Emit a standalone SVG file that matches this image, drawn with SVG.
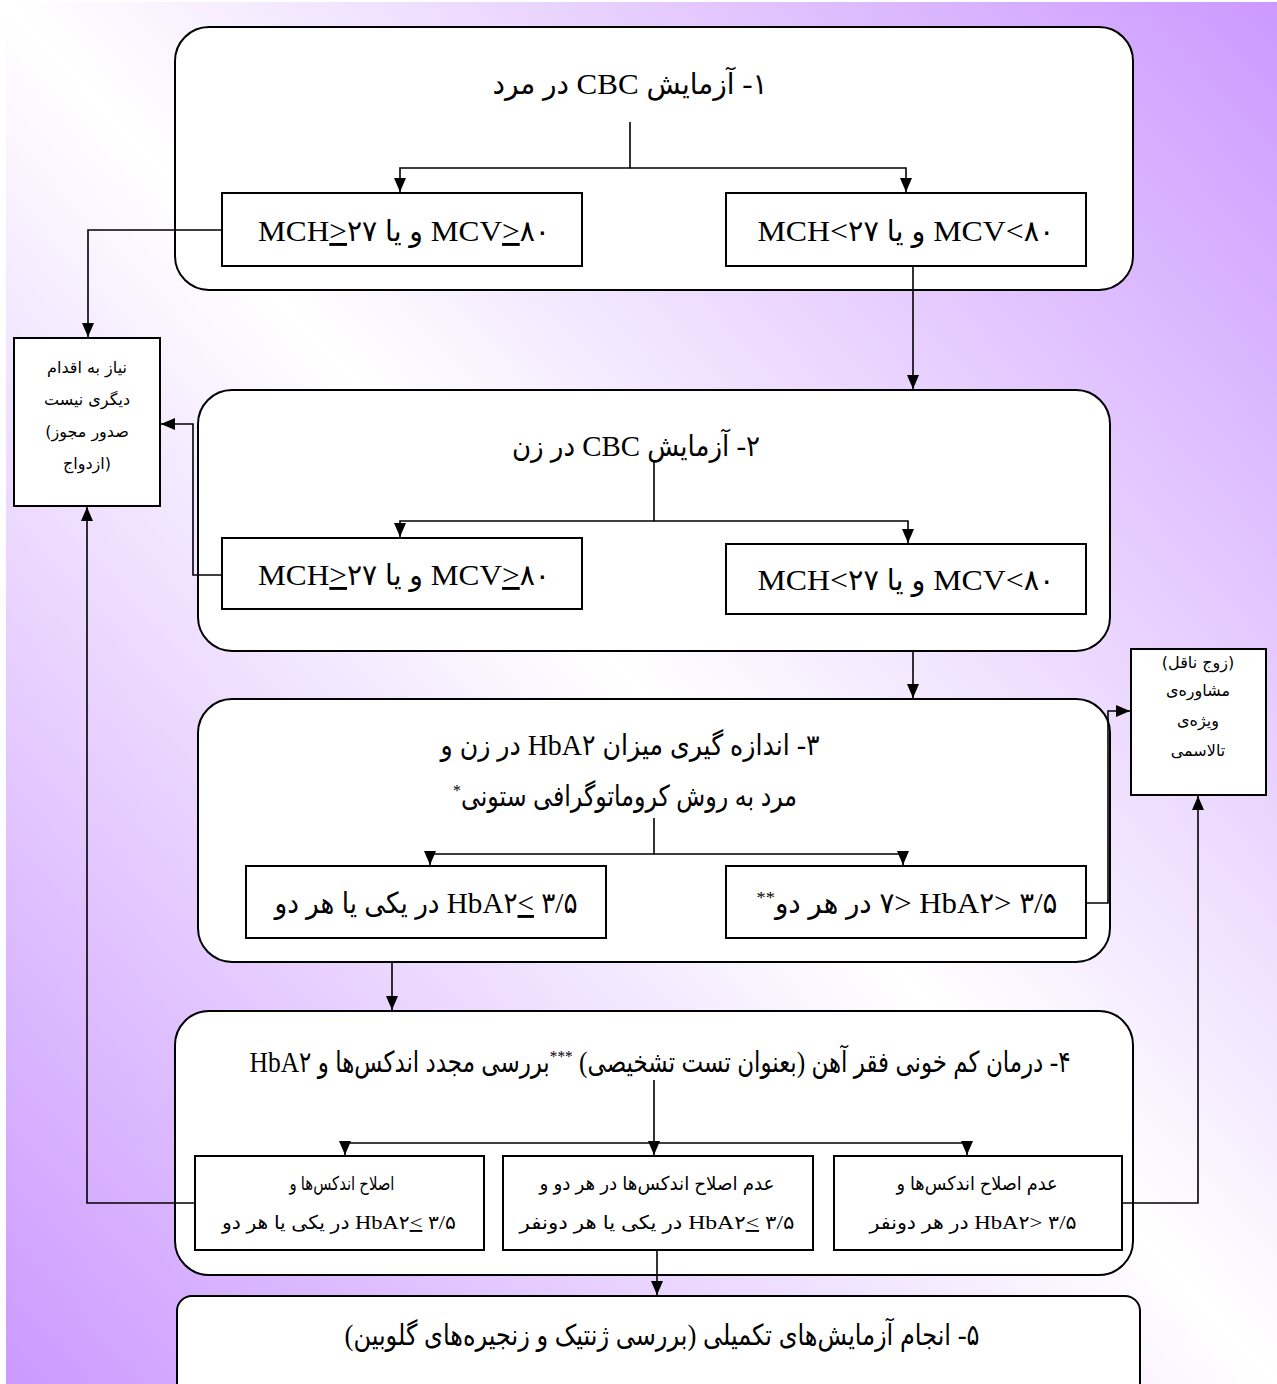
<svg xmlns="http://www.w3.org/2000/svg" width="1277" height="1384" viewBox="0 0 1277 1384">
  <defs>
    <linearGradient id="bg" x1="0" y1="1" x2="1" y2="0">
      <stop offset="0" stop-color="#cc99ff"/>
      <stop offset="0.5" stop-color="#ffffff"/>
      <stop offset="1" stop-color="#cc99ff"/>
    </linearGradient>
    <marker id="arr" viewBox="0 0 14 12" refX="14" refY="6" markerWidth="14" markerHeight="12" markerUnits="userSpaceOnUse" orient="auto">
      <path d="M0,0 L14,6 L0,12 z" fill="#000"/>
    </marker>
    <style>
      .stage{fill:#fff;stroke:#000;stroke-width:2}
      .box{fill:#fff;stroke:#000;stroke-width:2}
      .wire{fill:none;stroke:#000;stroke-width:1.6}
      .t{font-family:"Liberation Serif","DejaVu Sans Condensed","DejaVu Sans",serif;fill:#000;text-anchor:middle}
      .big{font-size:29px}
      .mid{font-size:19px}
      .sm{font-family:"DejaVu Sans",sans-serif;font-size:16px;fill:#000;text-anchor:middle}
      .u{text-decoration:underline}
      .sup{font-size:60%;baseline-shift:super}
    </style>
  </defs>

  <!-- page background -->
  <rect x="0" y="0" width="1277" height="1384" fill="#fff"/>
  <rect x="6" y="2" width="1271" height="1382" fill="url(#bg)"/>

  <!-- stage containers -->
  <g id="stage1">
    <rect class="stage" x="175" y="27" width="958" height="263" rx="34"/>
    <text class="t big" x="630" y="94" direction="rtl" textLength="275" lengthAdjust="spacingAndGlyphs">۱- آزمایش CBC در مرد</text>
  </g>
  <g id="stage2">
    <rect class="stage" x="198" y="390" width="912" height="261" rx="34"/>
    <text class="t big" x="636" y="456" direction="rtl" textLength="248" lengthAdjust="spacingAndGlyphs">۲- آزمایش CBC در زن</text>
  </g>
  <g id="stage3">
    <rect class="stage" x="198" y="699" width="912" height="263" rx="34"/>
    <text class="t big" x="630" y="755" direction="rtl" textLength="379" lengthAdjust="spacingAndGlyphs">۳- اندازه گیری میزان HbA۲ در زن و</text>
    <text class="t big" x="625" y="806" direction="rtl" textLength="344" lengthAdjust="spacingAndGlyphs">مرد به روش کروماتوگرافی ستونی<tspan class="sup">*</tspan></text>
  </g>
  <g id="stage4">
    <rect class="stage" x="175" y="1011" width="958" height="264" rx="34"/>
    <text class="t big" x="660" y="1072" direction="rtl" textLength="821" lengthAdjust="spacingAndGlyphs">۴- درمان کم خونی فقر آهن (بعنوان تست تشخیصی) <tspan class="sup">***</tspan>بررسی مجدد اندکس‌ها و HbA۲</text>
  </g>
  <g id="stage5">
    <rect class="stage" x="177" y="1296" width="963" height="130" rx="15"/>
    <text class="t big" x="662" y="1345" direction="rtl" textLength="635" lengthAdjust="spacingAndGlyphs">۵- انجام آزمایش‌های تکمیلی (بررسی ژنتیک و زنجیره‌های گلوبین)</text>
  </g>

  <!-- result boxes -->
  <g id="m-normal">
    <rect class="box" x="222" y="193" width="360" height="73"/>
    <text class="t big" x="404" y="241" direction="rtl" textLength="292" lengthAdjust="spacingAndGlyphs">MCV<tspan class="u">&gt;</tspan>۸۰ و یا MCH<tspan class="u">&gt;</tspan>۲۷</text>
  </g>
  <g id="m-low">
    <rect class="box" x="726" y="193" width="360" height="73"/>
    <text class="t big" x="906" y="241" direction="rtl" textLength="297" lengthAdjust="spacingAndGlyphs">MCV&lt;۸۰  و یا MCH&lt;۲۷</text>
  </g>
  <g id="f-normal">
    <rect class="box" x="222" y="538" width="360" height="71"/>
    <text class="t big" x="404" y="585" direction="rtl" textLength="292" lengthAdjust="spacingAndGlyphs">MCV<tspan class="u">&gt;</tspan>۸۰ و یا MCH<tspan class="u">&gt;</tspan>۲۷</text>
  </g>
  <g id="f-low">
    <rect class="box" x="726" y="544" width="360" height="70"/>
    <text class="t big" x="906" y="590" direction="rtl" textLength="297" lengthAdjust="spacingAndGlyphs">MCV&lt;۸۰  و یا MCH&lt;۲۷</text>
  </g>
  <g id="a2-normal">
    <rect class="box" x="246" y="866" width="360" height="72"/>
    <text class="t big" x="426" y="913" textLength="303" lengthAdjust="spacingAndGlyphs">در یکی یا هر دو&#x200E; HbA۲<tspan class="u">&lt;</tspan> ۳/۵</text>
  </g>
  <g id="a2-high">
    <rect class="box" x="726" y="866" width="360" height="72"/>
    <text class="t big" x="907" y="913" textLength="301" lengthAdjust="spacingAndGlyphs"><tspan class="sup">**</tspan>در هر دو&#x200E;  ۷&gt; HbA۲&gt; ۳/۵</text>
  </g>
  <g id="fixed">
    <rect class="box" x="195" y="1156" width="289" height="94"/>
    <text class="t mid" x="342" y="1190" direction="rtl" textLength="105" lengthAdjust="spacingAndGlyphs">اصلاح اندکس‌ها و</text>
    <text class="t mid" x="339" y="1229" textLength="234" lengthAdjust="spacingAndGlyphs">در یکی یا هر دو&#x200E;  HbA۲<tspan class="u">&lt;</tspan> ۳/۵</text>
  </g>
  <g id="not-fixed-low">
    <rect class="box" x="503" y="1156" width="310" height="94"/>
    <text class="t mid" x="657" y="1190" direction="rtl" textLength="235" lengthAdjust="spacingAndGlyphs">عدم اصلاح اندکس‌ها در هر دو و</text>
    <text class="t mid" x="657" y="1229" textLength="275" lengthAdjust="spacingAndGlyphs">در یکی یا هر دونفر&#x200E;  HbA۲<tspan class="u">&lt;</tspan> ۳/۵</text>
  </g>
  <g id="not-fixed-high">
    <rect class="box" x="834" y="1156" width="288" height="94"/>
    <text class="t mid" x="977" y="1190" direction="rtl" textLength="161" lengthAdjust="spacingAndGlyphs">عدم اصلاح اندکس‌ها و</text>
    <text class="t mid" x="973" y="1229" textLength="207" lengthAdjust="spacingAndGlyphs">در هر دونفر&#x200E;  HbA۲&gt; ۳/۵</text>
  </g>

  <!-- outcome boxes -->
  <g id="no-action">
    <rect class="box" x="14" y="338" width="146" height="168"/>
    <text class="sm" x="87" y="373">نیاز به اقدام</text>
    <text class="sm" x="87" y="405">دیگری نیست</text>
    <text class="sm" x="87" y="437">(صدور مجوز</text>
    <text class="sm" x="87" y="469">ازدواج)</text>
  </g>
  <g id="counselling">
    <rect class="box" x="1131" y="649" width="135" height="146"/>
    <text class="sm" x="1198" y="668">(زوج ناقل)</text>
    <text class="sm" x="1198" y="696">مشاوره‌ی</text>
    <text class="sm" x="1198" y="726">ویژه‌ی</text>
    <text class="sm" x="1198" y="756">تالاسمی</text>
  </g>

  <!-- connectors -->
  <g id="connectors" class="wire">
    <path d="M630,122 V168 H400 V192" marker-end="url(#arr)"/>
    <path d="M630,168 H906 V192" marker-end="url(#arr)"/>
    <path d="M222,230 H88 V337" marker-end="url(#arr)"/>
    <path d="M913,266 V389" marker-end="url(#arr)"/>
    <path d="M654,462 V521 H400 V537" marker-end="url(#arr)"/>
    <path d="M654,521 H908 V543" marker-end="url(#arr)"/>
    <path d="M222,575 H193 V424 H161" marker-end="url(#arr)"/>
    <path d="M913,651 V698" marker-end="url(#arr)"/>
    <path d="M654,818 V854 H430 V865" marker-end="url(#arr)"/>
    <path d="M654,854 H903 V865" marker-end="url(#arr)"/>
    <path d="M1086,903 H1108 V711 H1130" marker-end="url(#arr)"/>
    <path d="M392,962 V1010" marker-end="url(#arr)"/>
    <path d="M654,1080 V1143 H345 V1155" marker-end="url(#arr)"/>
    <path d="M654,1143 H967 V1155" marker-end="url(#arr)"/>
    <path d="M654,1143 V1155" marker-end="url(#arr)"/>
    <path d="M195,1203 H87 V507" marker-end="url(#arr)"/>
    <path d="M1122,1203 H1198 V796" marker-end="url(#arr)"/>
    <path d="M657,1250 V1295" marker-end="url(#arr)"/>
  </g>
</svg>
